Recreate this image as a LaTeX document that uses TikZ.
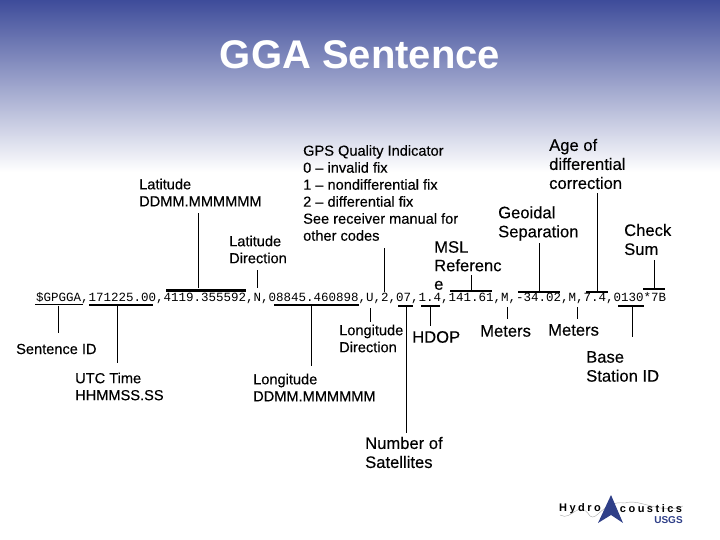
\documentclass[tikz,border=0pt]{standalone}
\usepackage{fontspec}
\setmainfont{Liberation Sans}
\newfontfamily\sentfont{Liberation Mono}
\newfontfamily\lblfont[FakeBold=0.25]{Liberation Sans}
\definecolor{Cbanner}{HTML}{3E4C9A}
\definecolor{Clogo}{HTML}{2F3F88}
\tikzset{
	lblsmall/.style={anchor=west,align=left,inner sep=0pt,font=\lblfont\fontsize{14.6}{17}\selectfont},
	lblbig/.style={anchor=west,align=left,inner sep=0pt,font=\lblfont\fontsize{16.6}{19}\selectfont},
	barthin/.style={fill=black,inner sep=0pt,minimum height=1.6pt},
	barthick/.style={fill=black,inner sep=0pt,minimum height=3pt},
	tick/.style={black,line width=0.8pt},
	logotext/.style={inner sep=0pt,font=\bfseries\fontsize{11}{13}\selectfont},
}
\begin{document}
\begin{tikzpicture}[x=1pt,y=-1pt]
	\useasboundingbox (0,0) rectangle (720,540);
	\shade[top color=Cbanner,bottom color=white] (0,0) rectangle (720,172);
	\node[font=\bfseries\fontsize{40}{44}\selectfont,text=white,inner sep=0pt] (title) at (360,55) {GGA Sentence};
	% the sentence
	\node[anchor=west,inner sep=0pt,font=\sentfont\fontsize{12.5}{14}\selectfont] (sentence) at (36,298) {\$GPGGA,171225.00,4119.355592,N,08845.460898,U,2,07,1.4,141.61,M,-34.02,M,7.4,0130*7B};
	% labels above
	\node[lblsmall] (lat) at (139,192.5) {Latitude\\DDMM.MMMMMM};
	\node[lblsmall] (latdir) at (229,249.5) {Latitude\\Direction};
	\node[lblsmall] (quality) at (303,193) {GPS Quality Indicator\\0 – invalid fix\\1 – nondifferential fix\\2 – differential fix\\See receiver manual for\\other codes};
	\node[lblbig,font=\lblfont\fontsize{16.6}{18.5}\selectfont] (msl) at (434,265.5) {MSL\\Referenc\\e};
	\node[lblbig] (geoidal) at (498,223.5) {Geoidal\\Separation};
	\node[lblbig] (age) at (549,164) {Age of\\differential\\correction};
	\node[lblbig] (check) at (624,239.5) {Check\\Sum};
	% labels below
	\node[lblsmall] (ggaid) at (16,349) {Sentence ID};
	\node[lblsmall] (utc) at (75,386.5) {UTC Time\\HHMMSS.SS};
	\node[lblsmall] (lon) at (253,387.5) {Longitude\\DDMM.MMMMMM};
	\node[lblsmall] (londir) at (339,338.5) {Longitude\\Direction};
	\node[lblbig] (hdop) at (412,337) {HDOP};
	\node[lblbig] (metersa) at (480,331) {Meters};
	\node[lblbig] (metersb) at (548,330) {Meters};
	\node[lblbig] (base) at (586,366.5) {Base\\Station ID};
	\node[lblbig] (sats) at (365,452.5) {Number of\\Satellites};
	% bars on the sentence
	\node[barthin,minimum width=48pt] (ggabar) at (59,304.5) {};
	\node[barthin,minimum width=64pt] (utcbar) at (121,305) {};
	\node[barthick,minimum width=80pt] (latbar) at (206,290) {};
	\node[barthin,minimum width=85pt] (lonbar) at (316.5,305) {};
	\node[barthin,minimum width=15pt] (satsbar) at (405.5,306) {};
	\node[barthin,minimum width=19pt] (hdopbar) at (430.5,306) {};
	\node[barthick,minimum width=42pt,minimum height=2pt] (mslbar) at (471,291) {};
	\node[barthick,minimum width=42pt,minimum height=2pt] (geoidbar) at (539,292) {};
	\node[barthick,minimum width=22pt,minimum height=2pt] (agebar) at (597,292) {};
	\node[barthick,minimum width=22pt,minimum height=2pt] (checkbar) at (654,289) {};
	\node[barthin,minimum width=26pt] (basebar) at (631,306) {};
	% free ends of the ticks
	\coordinate (ggatip) at (58,333);
	\coordinate (utctip) at (117,363);
	\coordinate (lattip) at (198,213);
	\coordinate (lontip) at (311,366);
	\coordinate (satstip) at (406,433);
	\coordinate (hdoptip) at (430,326);
	\coordinate (msltip) at (471,275);
	\coordinate (geoidtip) at (539,243);
	\coordinate (agetip) at (597,193);
	\coordinate (checktip) at (654,260);
	\coordinate (basetip) at (632,337);
	\coordinate (latdirtop) at (257,270);
	\coordinate (latdirend) at (257,288);
	\coordinate (qualtop) at (384,248);
	\coordinate (qualend) at (384,292);
	\coordinate (dirtop) at (370,308);
	\coordinate (dirend) at (370,322);
	\coordinate (meterstopa) at (507,307);
	\coordinate (metersenda) at (507,319);
	\coordinate (meterstopb) at (577,307);
	\coordinate (metersendb) at (577,319);
	% ticks
	\draw[tick] (ggabar.south -| ggatip) -- (ggatip);
	\draw[tick] (utcbar.south -| utctip) -- (utctip);
	\draw[tick] (latbar.north -| lattip) -- (lattip);
	\draw[tick] (lonbar.south -| lontip) -- (lontip);
	\draw[tick] (satsbar.south -| satstip) -- (satstip);
	\draw[tick] (hdopbar.south -| hdoptip) -- (hdoptip);
	\draw[tick] (mslbar.north -| msltip) -- (msltip);
	\draw[tick] (geoidbar.north -| geoidtip) -- (geoidtip);
	\draw[tick] (agebar.north -| agetip) -- (agetip);
	\draw[tick] (checkbar.north -| checktip) -- (checktip);
	\draw[tick] (basebar.south -| basetip) -- (basetip);
	\draw[tick] (latdirtop) -- (latdirend);
	\draw[tick] (qualtop) -- (qualend);
	\draw[tick] (dirtop) -- (dirend);
	\draw[tick] (meterstopa) -- (metersenda);
	\draw[tick] (meterstopb) -- (metersendb);
	% logo
	\draw[black!35,line width=0.4pt] (560,515) .. controls (572,522) and (578,498) .. (590,516) .. controls (597,522) and (603,500) .. (625,503) .. controls (640,498) and (660,515) .. (683,506);
	\fill[Clogo] (611,495) -- (623,523) -- (611,515) -- (598,523) -- cycle;
	\node[logotext] (logoa) at (580,509) {H\hspace{2.5pt}y\hspace{2.5pt}d\hspace{2.5pt}r\hspace{2.5pt}o};
	\node[logotext] (logob) at (651,509) {c\hspace{2.5pt}o\hspace{2.5pt}u\hspace{2.5pt}s\hspace{2.5pt}t\hspace{2.5pt}i\hspace{2.5pt}c\hspace{2.5pt}s};
	\node[inner sep=0pt,text=Clogo,font=\bfseries\fontsize{10}{12}\selectfont] (usgs) at (668.5,520) {USGS};
\end{tikzpicture}
\end{document}
